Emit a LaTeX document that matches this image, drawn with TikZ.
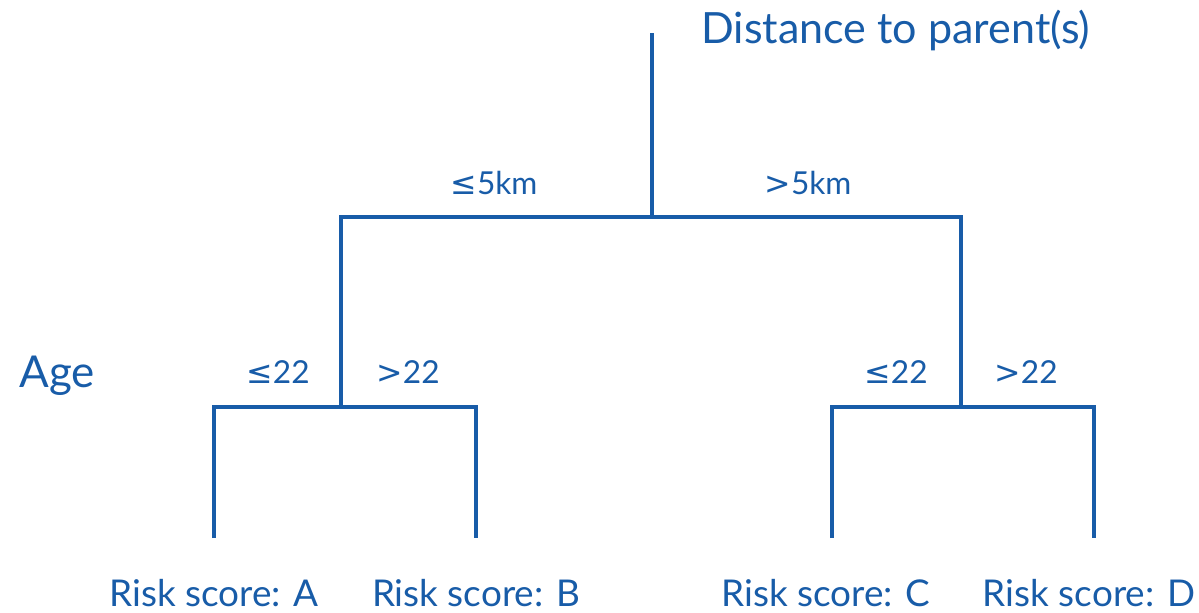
\documentclass[tikz,border=0pt]{standalone}
\usepackage{fontspec}
\setmainfont{Lato}
\newfontfamily\symfont{DejaVu Sans}
\definecolor{treeblue}{RGB}{24,92,168}
\begin{document}
\begin{tikzpicture}[x=0.02cm,y=-0.02cm]
\useasboundingbox (0,0) rectangle (1199,612);
\tikzstyle{every node}=[text=treeblue,inner sep=0pt];
\tikzstyle{branch}=[draw=treeblue,line width=2.3pt];
% split points
\coordinate (top) at (652,33);
\coordinate (root) at (652,217);
\coordinate (l) at (341,217);
\coordinate (r) at (961,217);
\coordinate (ls) at (341,407);
\coordinate (rs) at (961,407);
\coordinate (la) at (214,407);
\coordinate (lb) at (476,407);
\coordinate (rc) at (832,407);
\coordinate (rd) at (1094,407);
\coordinate (ea) at (214,538);
\coordinate (eb) at (476,538);
\coordinate (ec) at (832,538);
\coordinate (ed) at (1094,538);
% labels
\node[anchor=west,font=\fontsize{24.5}{28}\selectfont] (dist) at (701,30) {Distance to parent(s)};
\node[anchor=west,font=\fontsize{25}{28}\selectfont] (age) at (19,376) {Age};
\node[font=\fontsize{18}{22}\selectfont] (near) at (494,183) {{\symfont≤}5km};
\node[font=\fontsize{18}{22}\selectfont] (far) at (808,183) {{\symfont>}5km};
\node[font=\fontsize{18}{22}\selectfont] (ya) at (278,372) {{\symfont≤}22};
\node[font=\fontsize{18}{22}\selectfont] (oa) at (408,372) {{\symfont>}22};
\node[font=\fontsize{18}{22}\selectfont] (yb) at (896,372) {{\symfont≤}22};
\node[font=\fontsize{18}{22}\selectfont] (ob) at (1026,372) {{\symfont>}22};
\node[font=\fontsize{21}{24}\selectfont] (sa) at (214,593) {Risk score: A};
\node[font=\fontsize{21}{24}\selectfont] (sb) at (476,593) {Risk score: B};
\node[font=\fontsize{21}{24}\selectfont] (sc) at (826,593) {Risk score: C};
\node[font=\fontsize{21}{24}\selectfont] (sd) at (1089,593) {Risk score: D};
% tree
\draw[branch] (top) -- (root);
\draw[branch] (ls) -- (l) -- (r) -- (rs);
\draw[branch] (ea) -- (la) -- (lb) -- (eb);
\draw[branch] (ec) -- (rc) -- (rd) -- (ed);
\end{tikzpicture}
\end{document}
